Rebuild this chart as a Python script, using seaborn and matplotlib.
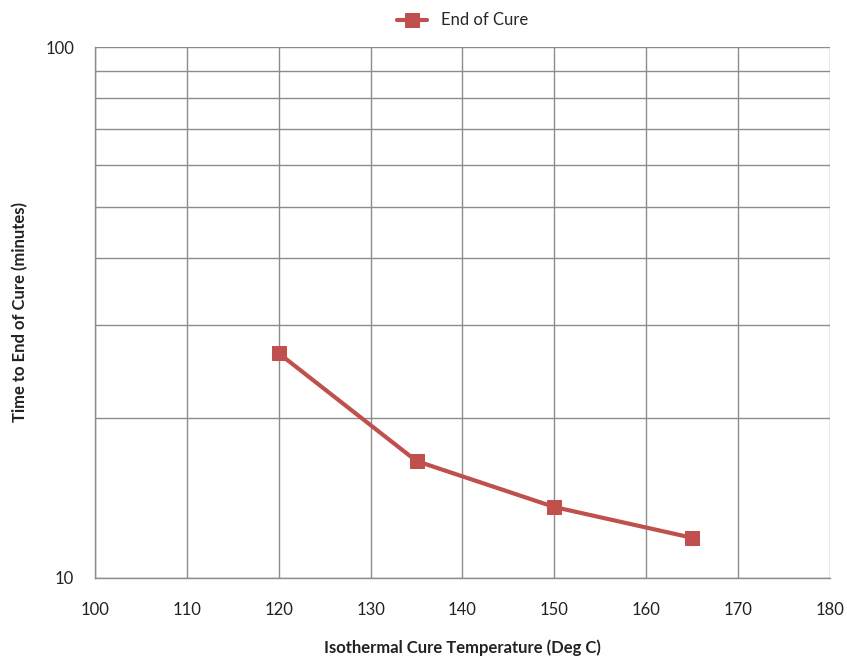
import matplotlib
matplotlib.use("Agg")
import matplotlib.pyplot as plt
import seaborn as sns
import pandas as pd
from matplotlib.ticker import FixedLocator, NullFormatter

temps = [120, 135, 150, 165]
cure_times = [26.5, 16.6, 13.6, 11.9]
series_name = "End of Cure"
x_ticks = [100, 110, 120, 130, 140, 150, 160, 170, 180]

sns.set_style("white")
plt.rcParams['font.family'] = ['Lato', 'DejaVu Sans']

df = pd.DataFrame({"temp": temps, "time": cure_times, "series": series_name})

fig = plt.figure(figsize=(8.47, 6.62), dpi=100)
ax = fig.add_axes([0.112, 0.127, 0.868, 0.802])

sns.lineplot(data=df, x="temp", y="time", hue="series", palette=["#C0504D"],
             marker="s", markersize=10, markeredgecolor="#C0504D",
             linewidth=3, ax=ax)

ax.set_yscale("log")
ax.set_ylim(10, 100)
ax.set_xlim(100, 180)
ax.set_xticks(x_ticks)
ax.set_yticks([10, 100])
ax.set_yticklabels(["10", "100"])
ax.yaxis.set_minor_locator(FixedLocator([20, 30, 40, 50, 60, 70, 80, 90]))
ax.yaxis.set_minor_formatter(NullFormatter())

ax.grid(True, which="major", color="#8c8c8c", linewidth=1)
ax.grid(True, which="minor", axis="y", color="#8c8c8c", linewidth=1)
ax.set_axisbelow(True)

for s in ["top", "right"]:
    ax.spines[s].set_visible(False)
for s in ["left", "bottom"]:
    ax.spines[s].set_color("#8c8c8c")
    ax.spines[s].set_linewidth(1)

ax.tick_params(axis="both", which="major", direction="out", length=5,
               color="#8c8c8c", labelsize=12, pad=10, labelcolor="#222222")
ax.tick_params(axis="y", which="minor", length=0)
ax.tick_params(axis="x", pad=12)

ax.set_xlabel("Isothermal Cure Temperature (Deg C)", fontsize=12,
              fontweight="bold", labelpad=16, color="#222222")
ax.set_ylabel("Time to End of Cure (minutes)", fontsize=12,
              fontweight="bold", labelpad=12, color="#222222")

ax.legend(loc="lower center", bbox_to_anchor=(0.5, 1.013), frameon=False,
          fontsize=12, handlelength=1.8, borderaxespad=0.3)

fig.savefig("out.png", dpi=100, facecolor="white")
